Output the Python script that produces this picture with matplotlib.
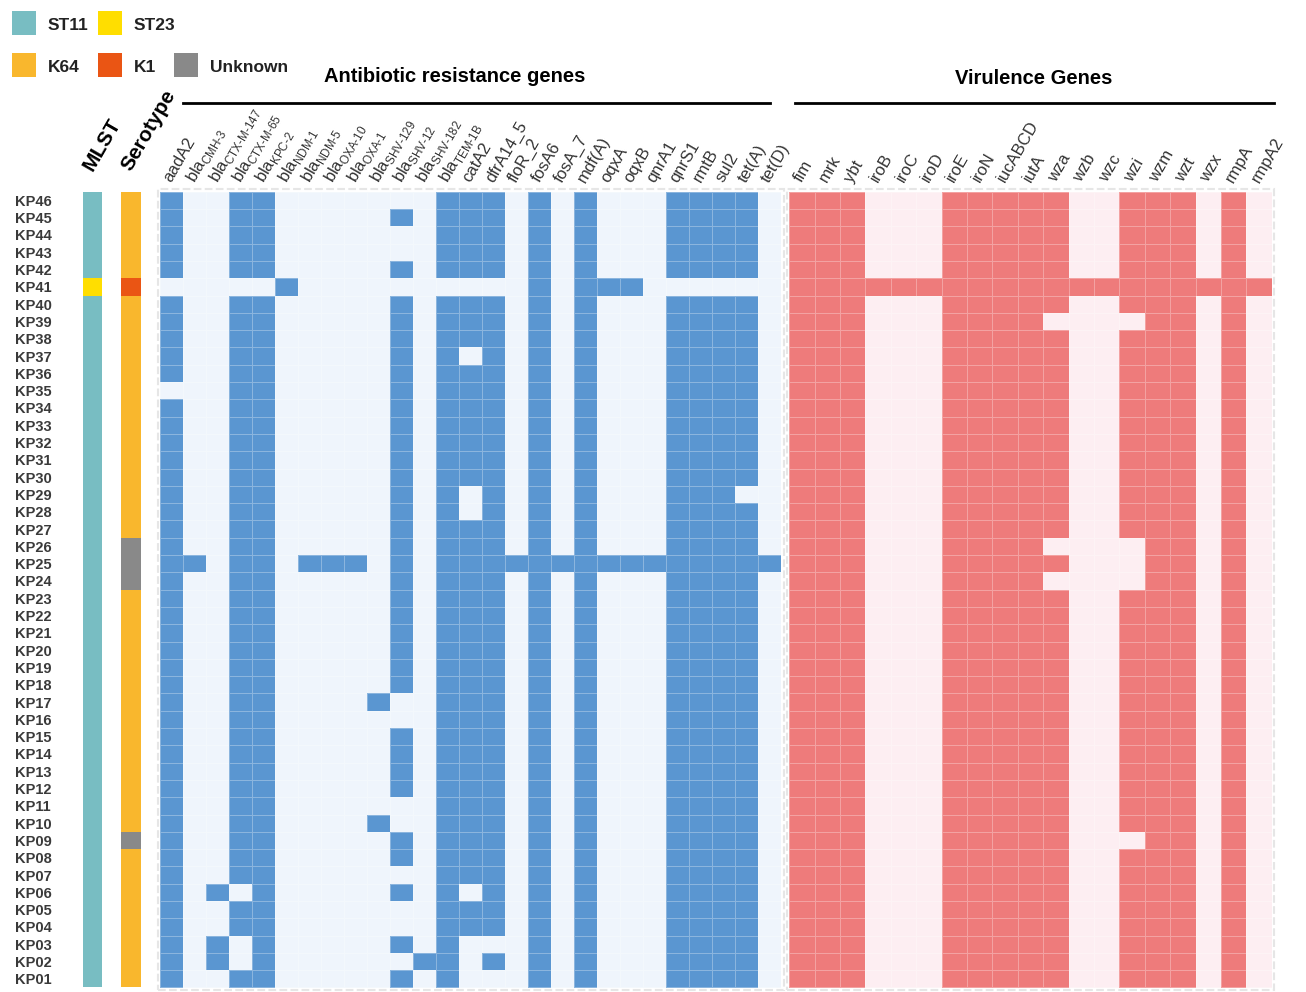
import numpy as np
import matplotlib
matplotlib.use("Agg")
import matplotlib.pyplot as plt
from matplotlib.colors import ListedColormap
from matplotlib.patches import Rectangle

plt.rcParams['font.family'] = ['Liberation Sans', 'DejaVu Sans']
plt.rcParams['mathtext.fontset'] = 'custom'
plt.rcParams['mathtext.rm'] = 'Liberation Sans'

# muestras de arriba hacia abajo
muestras = ["KP%02d" % i for i in range(46, 0, -1)]

mlst = ["ST11"] * 5 + ["ST23"] + ["ST11"] * 40
serotipo = (["K64"] * 5 + ["K1"] + ["K64"] * 14 + ["Unknown"] * 3
            + ["K64"] * 14 + ["Unknown"] + ["K64"] * 8)

genes_ab = ["aadA2", "bla$_{\\mathregular{CMH‐3}}$", "bla$_{\\mathregular{CTX‐M‐147}}$",
            "bla$_{\\mathregular{CTX‐M‐65}}$", "bla$_{\\mathregular{KPC‐2}}$",
            "bla$_{\\mathregular{NDM‐1}}$", "bla$_{\\mathregular{NDM‐5}}$",
            "bla$_{\\mathregular{OXA‐10}}$", "bla$_{\\mathregular{OXA‐1}}$",
            "bla$_{\\mathregular{SHV‐129}}$", "bla$_{\\mathregular{SHV‐12}}$",
            "bla$_{\\mathregular{SHV‐182}}$", "bla$_{\\mathregular{TEM‐1B}}$",
            "catA2", "dfrA14_5", "floR_2", "fosA6", "fosA_7", "mdf(A)", "oqxA", "oqxB",
            "qnrA1", "qnrS1", "rmtB", "sul2", "tet(A)", "tet(D)"]

genes_vf = ["fim", "mrk", "ybt", "iroB", "iroC", "iroD", "iroE", "iroN", "iucABCD",
            "iutA", "wza", "wzb", "wzc", "wzi", "wzm", "wzt", "wzx", "rmpA", "rmpA2"]

# presencia (1) / ausencia (0), una cadena por muestra, KP46 -> KP01
resistencia = [
    "100110000000111010100011110",  # KP46
    "100110000010111010100011110",  # KP45
    "100110000000111010100011110",  # KP44
    "100110000000111010100011110",  # KP43
    "100110000010111010100011110",  # KP42
    "000001000000000010111000000",  # KP41
    "100110000010111010100011110",  # KP40
    "100110000010111010100011110",  # KP39
    "100110000010111010100011110",  # KP38
    "100110000010101010100011110",  # KP37
    "100110000010111010100011110",  # KP36
    "000110000010111010100011110",  # KP35
    "100110000010111010100011110",  # KP34
    "100110000010111010100011110",  # KP33
    "100110000010111010100011110",  # KP32
    "100110000010111010100011110",  # KP31
    "100110000010111010100011110",  # KP30
    "100110000010101010100011100",  # KP29
    "100110000010101010100011110",  # KP28
    "100110000010111010100011110",  # KP27
    "100110000010111010100011110",  # KP26
    "110110111010111111111111111",  # KP25
    "100110000010111010100011110",  # KP24
    "100110000010111010100011110",  # KP23
    "100110000010111010100011110",  # KP22
    "100110000010111010100011110",  # KP21
    "100110000010111010100011110",  # KP20
    "100110000010111010100011110",  # KP19
    "100110000010111010100011110",  # KP18
    "100110000100111010100011110",  # KP17
    "100110000000111010100011110",  # KP16
    "100110000010111010100011110",  # KP15
    "100110000010111010100011110",  # KP14
    "100110000010111010100011110",  # KP13
    "100110000010111010100011110",  # KP12
    "100110000000111010100011110",  # KP11
    "100110000100111010100011110",  # KP10
    "100110000010111010100011110",  # KP09
    "100110000010111010100011110",  # KP08
    "100110000000111010100011110",  # KP07
    "101010000010101010100011110",  # KP06
    "100110000000111010100011110",  # KP05
    "100110000000111010100011110",  # KP04
    "101010000010100010100011110",  # KP03
    "101010000001101010100011110",  # KP02
    "100110000010100010100011110",  # KP01
]

virulencia = [
    "1110001111100111010",  # KP46
    "1110001111100111010",  # KP45
    "1110001111100111010",  # KP44
    "1110001111100111010",  # KP43
    "1110001111100111010",  # KP42
    "1111111111111111111",  # KP41
    "1110001111100111010",  # KP40
    "1110001111000011010",  # KP39
] + ["1110001111100111010"] * 12 + [
    "1110001111000011010",  # KP26
    "1110001111100011010",  # KP25
    "1110001111000011010",  # KP24
] + ["1110001111100111010"] * 14 + [
    "1110001111100011010",  # KP09
] + ["1110001111100111010"] * 8

colores_leyenda = {"ST11": "#78BDC2", "ST23": "#FFDE00", "K64": "#F9B72D",
                   "K1": "#EA5514", "Unknown": "#898989"}

ab = np.array([[int(c) for c in fila] for fila in resistencia])
vf = np.array([[int(c) for c in fila] for fila in virulencia])

W, H = 1306, 992
fig = plt.figure(figsize=(W / 100, H / 100), dpi=100)


def caja(x0, y0, x1, y1):
    return fig.add_axes([x0 / W, 1 - y1 / H, (x1 - x0) / W, (y1 - y0) / H])


top, bot = 191.7, 987.5
ax_ab = caja(160, top, 781, bot)
ax_vf = caja(789.3, top, 1271.7, bot)
ax_mlst = caja(83.3, top, 102.3, bot)
ax_sero = caja(120.7, top, 140.7, bot)

borde = (1, 1, 1, 0.3)
ax_ab.pcolormesh(ab, cmap=ListedColormap(["#EFF5FC", "#5A96D1"]), vmin=0, vmax=1,
                 edgecolors=borde, linewidth=0.6)
ax_vf.pcolormesh(vf, cmap=ListedColormap(["#FDEEF2", "#EE7B7B"]), vmin=0, vmax=1,
                 edgecolors=borde, linewidth=0.6)

cats = list(colores_leyenda)
cmap_cat = ListedColormap([colores_leyenda[c] for c in cats])
for ax, valores in [(ax_mlst, mlst), (ax_sero, serotipo)]:
    idx = np.array([[cats.index(v)] for v in valores])
    ax.pcolormesh(idx, cmap=cmap_cat, vmin=-0.5, vmax=len(cats) - 0.5)

for ax in [ax_ab, ax_vf, ax_mlst, ax_sero]:
    ax.invert_yaxis()
    ax.set_yticks([])
    ax.set_xticks([])
    for s in ax.spines.values():
        s.set_visible(False)

# etiquetas de genes
for ax, genes in [(ax_ab, genes_ab), (ax_vf, genes_vf)]:
    ax.xaxis.tick_top()
    ax.set_xticks(np.arange(len(genes)) + 0.5)
    ax.set_xticklabels(genes, rotation=60, ha="left", va="baseline",
                       rotation_mode="anchor", fontsize=12, color="#333333")
    ax.tick_params(axis="x", length=0, pad=6)

ax_mlst.set_yticks(np.arange(len(muestras)) + 0.5)
ax_mlst.set_yticklabels(muestras, fontsize=10.5, fontweight="bold", color="#3a3a3a",
                        ha="left")
ax_mlst.tick_params(axis="y", length=0, pad=49)

ax_mlst.xaxis.tick_top()
ax_mlst.set_xticks([0.5])
ax_mlst.set_xticklabels(["MLST"], rotation=60, ha="left", va="baseline",
                        rotation_mode="anchor", fontsize=15, fontweight="bold")
ax_mlst.tick_params(axis="x", length=0, pad=14)
ax_sero.xaxis.tick_top()
ax_sero.set_xticks([0.5])
ax_sero.set_xticklabels(["Serotype"], rotation=60, ha="left", va="baseline",
                        rotation_mode="anchor", fontsize=15, fontweight="bold")
ax_sero.tick_params(axis="x", length=0, pad=14)

# marcos punteados
for x0, x1 in [(157.5, 783.5), (786.8, 1274.2)]:
    fig.patches.append(Rectangle((x0 / W, 1 - (bot + 2.5) / H), (x1 - x0) / W,
                                 (bot - top + 5) / H, transform=fig.transFigure,
                                 fill=False, edgecolor="#E6E6E6", linestyle="--",
                                 linewidth=1.5))

# titulos de grupo
fig.text(455 / W, 1 - 76 / H, "Antibiotic resistance genes", ha="center", va="center",
         fontsize=14.5, fontweight="bold")
fig.text(1034 / W, 1 - 78 / H, "Virulence Genes", ha="center", va="center",
         fontsize=14.5, fontweight="bold")
for x0, x1 in [(183, 770), (795, 1274)]:
    fig.add_artist(plt.Line2D([x0 / W, x1 / W], [1 - 103 / H, 1 - 103 / H],
                              color="black", linewidth=2))

# leyenda
leyenda = [("ST11", 12, 11), ("ST23", 98, 11), ("K64", 12, 53), ("K1", 98, 53),
           ("Unknown", 174, 53)]
for nombre, x, y in leyenda:
    fig.patches.append(Rectangle((x / W, 1 - (y + 24) / H), 24 / W, 24 / H,
                                 transform=fig.transFigure,
                                 facecolor=colores_leyenda[nombre], edgecolor="none"))
    fig.text((x + 36) / W, 1 - (y + 14) / H, nombre, ha="left", va="center",
             fontsize=12.5, fontweight="bold", color="#222222")

fig.savefig("out.png", dpi=100)
